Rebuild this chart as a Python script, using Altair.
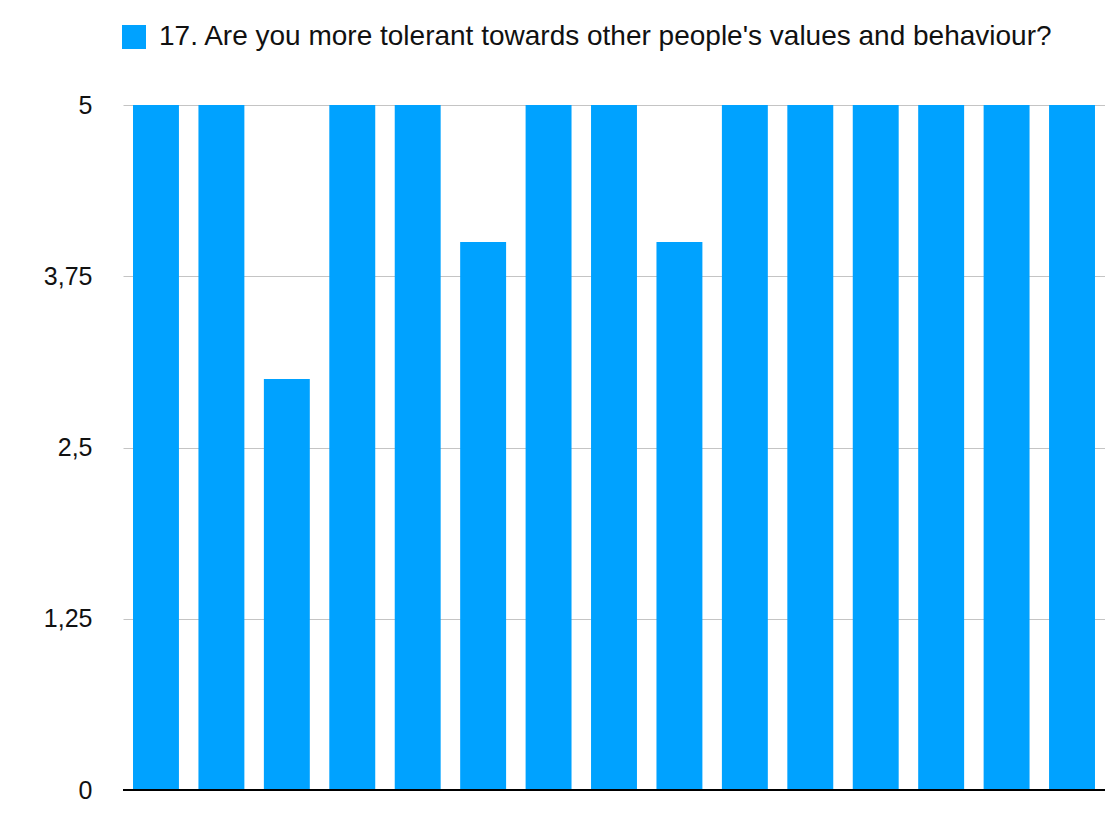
import altair as alt
import pandas as pd

respondents = [str(i) for i in range(1, 16)]
values = [5, 5, 3, 5, 5, 4, 5, 5, 4, 5, 5, 5, 5, 5, 5]
series_name = "17. Are you more tolerant towards other people's values and behaviour?"
y_ticks = [0, 1.25, 2.5, 3.75, 5]

df = pd.DataFrame({"respondent": respondents, "value": values, "series": [series_name] * len(values)})

FONT = "Liberation Sans"

bars = alt.Chart(df).mark_bar(color="#00A2FF").encode(
    x=alt.X("respondent:O", sort=respondents, axis=None,
            scale=alt.Scale(paddingInner=0.298, paddingOuter=0.153)),
    y=alt.Y("value:Q", scale=alt.Scale(domain=[0, 5], nice=False),
            axis=alt.Axis(values=y_ticks, title=None, domain=False, ticks=False,
                          labelExpr="replace(format(datum.value, ''), '.', ',')",
                          labelFontSize=25, labelFont=FONT, labelColor="#111111",
                          labelPadding=31, gridColor="#c4c4c4", gridWidth=1)),
    color=alt.Color("series:N", scale=alt.Scale(range=["#00A2FF"]),
                    legend=alt.Legend(title=None, orient="none", legendX=-3, legendY=-82,
                                      symbolType="square", symbolSize=576,
                                      symbolStrokeWidth=0, labelFontSize=28,
                                      labelFont=FONT, labelColor="#111111",
                                      labelOffset=11, labelLimit=1200)),
)

baseline = alt.Chart(pd.DataFrame({"y": [0]})).mark_rule(color="black", strokeWidth=2).encode(
    y=alt.Y("y:Q")
)

chart = alt.layer(bars, baseline).properties(
    width=982, height=685,
    autosize=alt.AutoSizeParams(type="none"),
    padding={"left": 115, "top": 97, "right": 0, "bottom": 20},
).configure_view(stroke=None)

chart.save("out.html", embed_options={"renderer": "svg", "actions": False})
